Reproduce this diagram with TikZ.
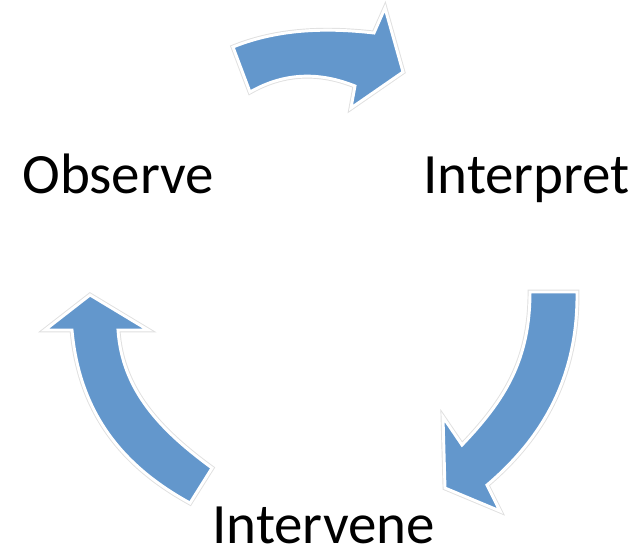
\documentclass[tikz,border=0pt]{standalone}
\usepackage{fontspec}
\setmainfont{Carlito}
\definecolor{arrowblue}{RGB}{99,151,204}
\tikzset{
  cyclearrow/.style={fill=arrowblue, draw=white, line width=2.2pt, line join=miter,
    preaction={draw=black!12, line width=3.6pt}},
  steplabel/.style={anchor=base west, inner sep=0pt, font=\fontsize{42.75}{50}\selectfont}
}

\begin{document}
\begin{tikzpicture}[x=0.75pt,y=0.75pt,yscale=-1,xscale=1]
\useasboundingbox (0,0) rectangle (643,550);
%Shape: Curved Arrow top
\draw [cyclearrow] (233,47) .. controls (280,28) and (330,28) .. (374,33) -- (385,8) -- (403,72) -- (351,108) -- (355,86) .. controls (320,72) and (285,72) .. (250,92) -- cycle ;
%Shape: Curved Arrow right
\draw [cyclearrow] (530,292) -- (577,292) .. controls (578,380) and (540,440) .. (487,485) -- (500,511) -- (445,488) -- (443,417) -- (462,445) .. controls (505,400) and (530,360) .. (530,292) -- cycle ;
%Shape: Curved Arrow left
\draw [cyclearrow] (90,295) -- (148,330) -- (118,330) .. controls (122,390) and (160,430) .. (212,468) -- (190,503) .. controls (130,470) and (80,420) .. (72,330) -- (45,330) -- cycle ;

% Text Node
\node (observe) [steplabel] at (22,193) {Observe};
% Text Node
\node (interpret) [steplabel] at (423,193) {Interpret};
% Text Node
\node (intervene) [steplabel] at (212,543) {Intervene};

\end{tikzpicture}
\end{document}
